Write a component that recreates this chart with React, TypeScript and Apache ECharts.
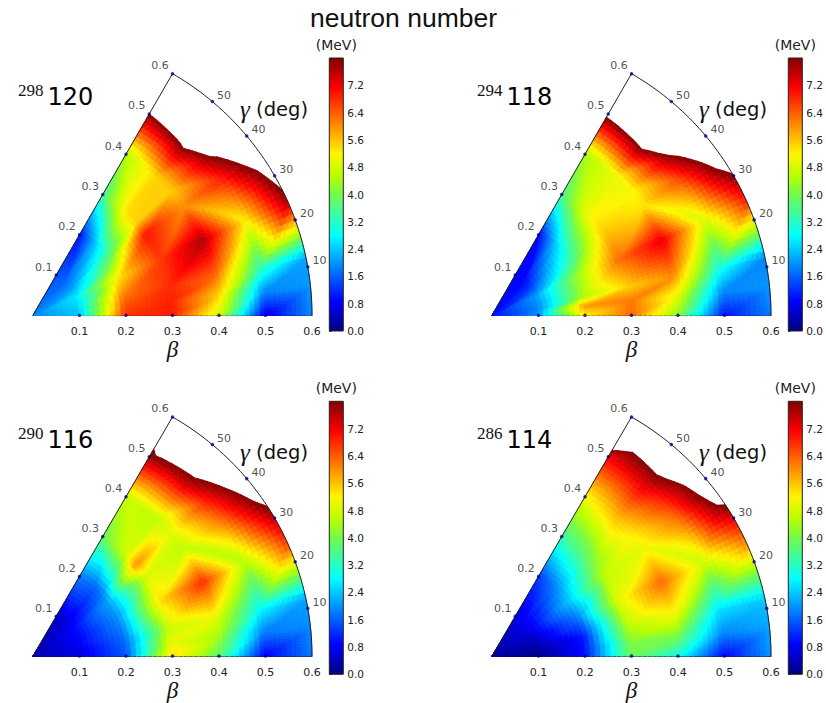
import React, { useEffect, useRef } from "react";
import * as echarts from "echarts";

const betaTicks = [0, 0.1, 0.2, 0.3, 0.4, 0.5, 0.6];
const meshGamma = [0, 6, 12, 24, 36, 42, 48, 60];
const gammaTicks = [10, 20, 30, 40, 50];
const barTicks = { min: 0, max: 8, interval: 0.8 };
const level = 8;
// mesh quads ("gammaRow,betaColumn") split along the other diagonal
const otherDiagonal = ["3,4", "4,4", "4,5", "5,4", "5,5", "6,4", "6,5"];

// rows: gamma = 0,6,12,24,36,42,48,60; columns: beta = 0,0.1,...,0.6 (MeV)
const z120 = [
  [1.9, 2.4, 6.7, 6.9, 4.8, 0.7, 1.9],
  [1.9, 2.4, 6.5, 6.9, 5.5, 1.9, 2.0],
  [1.9, 2.5, 6.2, 6.8, 6.3, 3.3, 2.1],
  [1.9, 2.6, 5.3, 6.7, 7.7, 5.2, 7.7],
  [1.9, 2.0, 3.8, 7.0, 6.0, 6.9, 9.0],
  [1.9, 1.8, 3.0, 5.5, 5.5, 7.7, 10.5],
  [1.9, 1.6, 2.4, 5.4, 5.5, 8.5, 12],
  [1.9, 1.5, 1.0, 3.5, 4.5, 8.0, 14],
];
const z118 = [
  [1.0, 2.0, 5.2, 6.3, 4.2, 1.0, 1.8],
  [1.0, 1.9, 5.9, 6.2, 5.0, 1.9, 2.0],
  [1.0, 1.9, 4.4, 5.5, 6.0, 3.0, 1.9],
  [1.0, 2.0, 4.3, 6.3, 7.3, 4.8, 6.8],
  [1.0, 1.3, 3.2, 5.6, 5.3, 6.6, 9.0],
  [1.0, 1.1, 2.8, 5.3, 5.1, 7.6, 10.5],
  [1.0, 0.9, 2.3, 5.0, 5.0, 8.7, 12],
  [1.0, 0.9, 0.9, 3.6, 4.4, 8.3, 14],
];
const z116 = [
  [0.3, 0.7, 1.5, 5.4, 3.8, 0.8, 1.8],
  [0.3, 0.7, 1.6, 5.0, 4.4, 1.8, 1.9],
  [0.3, 0.8, 1.7, 4.7, 5.0, 2.8, 2.1],
  [0.3, 0.8, 1.9, 5.4, 6.8, 4.5, 6.6],
  [0.3, 0.8, 2.1, 4.9, 4.6, 6.2, 8.5],
  [0.3, 0.7, 1.8, 6.0, 4.9, 6.85, 9.2],
  [0.3, 0.6, 1.6, 4.8, 4.6, 7.5, 9.9],
  [0.3, 0.5, 1.8, 3.9, 4.7, 7.8, 8.8],
];
const z114 = [
  [0.2, 0.1, 1.0, 3.9, 3.0, 0.9, 2.0],
  [0.2, 0.2, 1.0, 4.1, 4.0, 1.9, 2.1],
  [0.2, 0.3, 1.0, 4.5, 5.0, 2.6, 2.4],
  [0.2, 0.5, 1.7, 5.0, 6.3, 4.7, 6.0],
  [0.2, 0.7, 2.3, 4.6, 5.0, 6.2, 8.6],
  [0.2, 0.75, 2.1, 4.2, 5.3, 6.8, 9.0],
  [0.2, 0.8, 1.8, 3.8, 5.6, 7.4, 9.4],
  [0.2, 0.7, 1.3, 3.4, 5.1, 7.2, 12],
];

const panels = [
  { mass: "298", charge: "120", z: z120, left: 33, base: 315.3, barLeft: 329.3 },
  { mass: "294", charge: "118", z: z118, left: 492, base: 315.3, barLeft: 788.3 },
  { mass: "290", charge: "116", z: z116, left: 33, base: 658.6, barLeft: 329.3 },
  { mass: "286", charge: "114", z: z114, left: 492, base: 658.6, barLeft: 788.3 },
];

const jetStops: [number, number[]][] = [
  [0, [0, 0, 128]],
  [0.11, [0, 0, 255]],
  [0.35, [0, 255, 255]],
  [0.5, [115, 250, 75]],
  [0.57, [185, 255, 0]],
  [0.65, [255, 245, 0]],
  [0.89, [255, 0, 0]],
  [1, [128, 0, 0]],
];
function jet(t: number) {
  const u = Math.max(0, Math.min(1, t));
  for (let i = 1; i < jetStops.length; i++) {
    if (u <= jetStops[i][0]) {
      const [a, ca] = jetStops[i - 1];
      const [b, cb] = jetStops[i];
      const f = (u - a) / (b - a);
      return `rgb(${ca.map((c, k) => Math.round(c + (cb[k] - c) * f)).join(",")})`;
    }
  }
  return "rgb(128,0,0)";
}

const rad = (g: number) => (g * Math.PI) / 180;
const toXY = (b: number, g: number) => [b * Math.cos(rad(g)), b * Math.sin(rad(g))];

type V = { x: number; y: number; v: number };
function clipPoly(tri: V[]): V[] {
  const out: V[] = [];
  for (let i = 0; i < tri.length; i++) {
    const p = tri[i];
    const q = tri[(i + 1) % tri.length];
    const pin = p.v <= level;
    const qin = q.v <= level;
    if (pin) out.push(p);
    if (pin !== qin) {
      const f = (level - p.v) / (q.v - p.v);
      out.push({ x: p.x + (q.x - p.x) * f, y: p.y + (q.y - p.y) * f, v: level });
    }
  }
  return out;
}

function buildCells(z: number[][]) {
  const cells: { pts: number[][]; color: string }[] = [];
  const n = 9;
  const addTri = (a: number[], b: number[], c: number[]) => {
    const bary = (i: number, j: number): V => {
      const w1 = i / n;
      const w2 = j / n;
      const w0 = 1 - w1 - w2;
      const bb = a[0] * w0 + b[0] * w1 + c[0] * w2;
      const gg = a[1] * w0 + b[1] * w1 + c[1] * w2;
      const vv = a[2] * w0 + b[2] * w1 + c[2] * w2;
      const [x, y] = toXY(bb, gg);
      return { x, y, v: vv };
    };
    const emit = (tri: V[]) => {
      const poly = clipPoly(tri);
      if (poly.length < 3) return;
      const m = poly.reduce((s, p) => s + p.v, 0) / poly.length;
      cells.push({ pts: poly.map((p) => [p.x, p.y]), color: jet(m / level) });
    };
    for (let i = 0; i < n; i++) {
      for (let j = 0; j < n - i; j++) {
        emit([bary(i, j), bary(i + 1, j), bary(i, j + 1)]);
        if (i + j < n - 1) emit([bary(i + 1, j), bary(i + 1, j + 1), bary(i, j + 1)]);
      }
    }
  };
  for (let r = 0; r < meshGamma.length - 1; r++) {
    for (let c = 0; c < betaTicks.length - 1; c++) {
      const A = [betaTicks[c], meshGamma[r], z[r][c]];
      const B = [betaTicks[c + 1], meshGamma[r], z[r][c + 1]];
      const C = [betaTicks[c + 1], meshGamma[r + 1], z[r + 1][c + 1]];
      const D = [betaTicks[c], meshGamma[r + 1], z[r + 1][c]];
      if (otherDiagonal.includes(`${r},${c}`)) {
        addTri(A, B, D);
        addTri(B, C, D);
      } else {
        addTri(A, B, C);
        addTri(A, C, D);
      }
    }
  }
  return cells;
}

const wedgeW = 279;
const wedgeH = wedgeW * Math.sin(rad(60));
const sans = "DejaVu Sans";
const serif = "Liberation Serif";
const dark = "#222222";
const gradient = jetStops.map(([offset, c]) => ({ offset: 1 - offset, color: `rgb(${c.join(",")})` })).reverse();

function buildOption() {
  const grid: any[] = [];
  const xAxis: any[] = [];
  const yAxis: any[] = [];
  const series: any[] = [];
  const graphic: any[] = [
    { type: "text", x: 403.5, y: 18, style: { text: "neutron number", fontFamily: "Liberation Sans", fontSize: 26.5, fill: "#111", align: "center", verticalAlign: "middle" } },
  ];
  panels.forEach((p, idx) => {
    const g0 = idx * 2;
    const g1 = idx * 2 + 1;
    grid.push({ left: p.left, top: p.base - wedgeH, width: wedgeW, height: wedgeH });
    grid.push({ left: p.barLeft, top: p.base - 257.3, width: 14, height: 273 });
    xAxis.push({
      gridIndex: g0, type: "value", min: 0, max: 0.6, interval: 0.1,
      splitLine: { show: false }, axisTick: { show: false },
      axisLine: { show: true, lineStyle: { color: dark, width: 1 } },
      axisLabel: { showMinLabel: false, margin: 11, fontFamily: sans, fontSize: 11, color: dark, formatter: (v: number) => v.toFixed(1) },
      name: "β", nameLocation: "middle", nameGap: 22,
      nameTextStyle: { fontFamily: serif, fontStyle: "italic", fontSize: 23, color: "#111" },
    });
    yAxis.push({ gridIndex: g0, type: "value", min: 0, max: 0.6 * Math.sin(rad(60)), show: false });
    xAxis.push({ gridIndex: g1, type: "value", min: 0, max: 1, show: false });
    yAxis.push({
      gridIndex: g1, type: "value", position: "right", min: barTicks.min, max: barTicks.max, interval: barTicks.interval,
      splitLine: { show: false },
      axisLine: { show: false },
      axisTick: { show: true, length: 2, lineStyle: { color: dark } },
      axisLabel: { showMaxLabel: false, margin: 4, fontFamily: sans, fontSize: 10.5, color: dark, formatter: (v: number) => v.toFixed(1) },
    });

    const cells = buildCells(p.z);
    series.push({
      type: "custom", xAxisIndex: g0, yAxisIndex: g0, silent: true, progressive: 0, clip: false, z: 1,
      data: cells.map((_, i) => [0, 0, i]),
      renderItem: (params: any, api: any) => {
        const cell = cells[params.dataIndex];
        return {
          type: "polygon",
          shape: { points: cell.pts.map((q) => api.coord(q)) },
          style: { fill: cell.color, stroke: cell.color, lineWidth: 0.7 },
        };
      },
    });
    const arc: number[][] = [];
    for (let g = 0; g <= 60; g++) arc.push(toXY(0.6, g));
    series.push({
      type: "line", xAxisIndex: g0, yAxisIndex: g0, data: [...arc, [0, 0]], showSymbol: false, silent: true, z: 3,
      lineStyle: { color: dark, width: 1 }, clip: false,
    });
    const dot = { symbol: "circle", symbolSize: 3.5, itemStyle: { color: "#000090" }, silent: true, z: 4, clip: false };
    series.push({
      type: "scatter", xAxisIndex: g0, yAxisIndex: g0, ...dot,
      data: betaTicks.slice(1, 6).map((b) => toXY(b, 0)),
    });
    series.push({
      type: "scatter", xAxisIndex: g0, yAxisIndex: g0, ...dot,
      data: betaTicks.slice(1).map((b) => ({ value: toXY(b, 60), name: b.toFixed(1) })),
      label: { show: true, position: "left", distance: 2, offset: [0, -8], formatter: "{b}", fontFamily: sans, fontSize: 11, color: dark },
    });
    series.push({
      type: "scatter", xAxisIndex: g0, yAxisIndex: g0, ...dot,
      data: gammaTicks.map((g) => ({ value: toXY(0.6, g), name: String(g) })),
      label: { show: true, position: "right", distance: 3, offset: [0, -6], formatter: "{b}", fontFamily: sans, fontSize: 11, color: dark },
    });
    series.push({
      type: "custom", xAxisIndex: g1, yAxisIndex: g1, silent: true, clip: false,
      data: [[0, barTicks.min, 1, barTicks.max]],
      renderItem: (_: any, api: any) => {
        const a = api.coord([api.value(0), api.value(1)]);
        const b = api.coord([api.value(2), api.value(3)]);
        return {
          type: "rect",
          shape: { x: a[0], y: b[1], width: b[0] - a[0], height: a[1] - b[1] },
          style: {
            fill: new echarts.graphic.LinearGradient(0, 0, 0, 1, gradient),
            stroke: dark, lineWidth: 1,
          },
        };
      },
    });

    const ox = p.left - 33;
    const oy = p.base - 315.3;
    graphic.push(
      { type: "text", x: 18 + ox, y: 90 + oy, style: { text: p.mass, fontFamily: serif, fontSize: 17, fill: "#111", verticalAlign: "middle" } },
      { type: "text", x: 47.5 + ox, y: 97 + oy, style: { text: p.charge, fontFamily: sans, fontSize: 24, fill: "#000", verticalAlign: "middle" } },
      {
        type: "text", x: 240 + ox, y: 109 + oy,
        style: {
          text: "{g|γ}{t| (deg)}", verticalAlign: "middle",
          rich: {
            g: { fontFamily: serif, fontStyle: "italic", fontSize: 25, fill: "#111" },
            t: { fontFamily: sans, fontSize: 19.5, fill: "#111" },
          },
        },
      },
      { type: "text", x: p.barLeft + 7, y: 45 + oy, style: { text: "(MeV)", fontFamily: sans, fontSize: 14, fill: dark, align: "center", verticalAlign: "middle" } }
    );
  });
  return { animation: false, backgroundColor: "#fff", grid, xAxis, yAxis, series, graphic };
}

export default function App() {
  const ref = useRef<HTMLDivElement>(null);
  useEffect(() => {
    document.body.style.margin = "0";
    const chart = echarts.init(ref.current!, undefined, { renderer: "svg" });
    chart.setOption(buildOption() as any);
    return () => chart.dispose();
  }, []);
  return <div ref={ref} style={{ width: 826, height: 703 }} />;
}
